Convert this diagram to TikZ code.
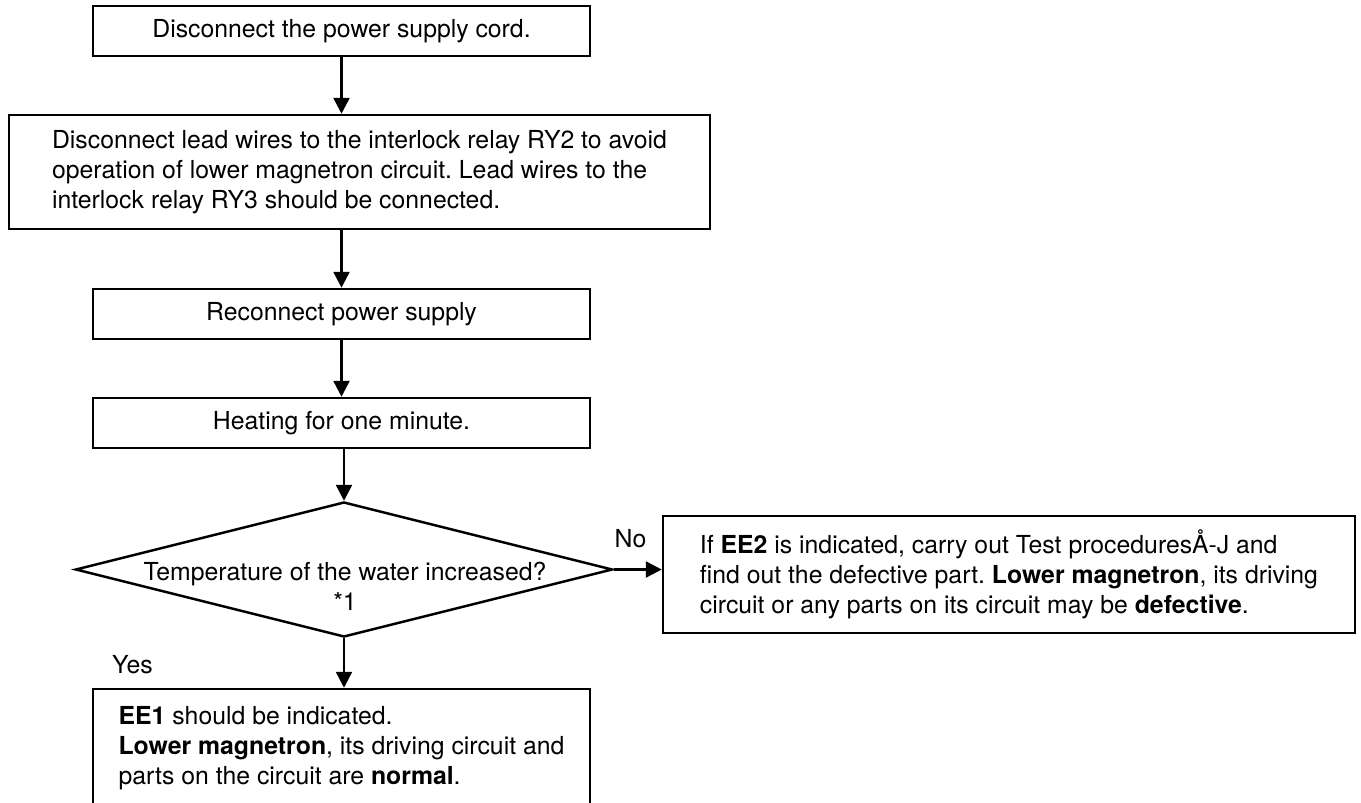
\documentclass[tikz,border=0pt]{standalone}
\usepackage{fontspec}
\setmainfont{TeX Gyre Heros}
\usepackage{xcolor}
\usepackage{tikz}
\usetikzlibrary{shapes.geometric,arrows.meta}
\definecolor{ink}{HTML}{000000}
\frenchspacing
\tikzset{
  box/.style={draw=ink, line width=2.5pt, inner sep=0pt, align=center, minimum height=50pt, font=\fontsize{24.8}{30}\selectfont},
  tbox/.style={box, align=left},
  cond/.style={draw=ink, line width=2.5pt, shape=diamond, inner sep=0pt, minimum width=537pt, minimum height=135pt},
  arr/.style={draw=ink, line width=2.5pt, -{Triangle[length=16pt,width=16pt]}},
  lab/.style={text=ink, inner sep=0pt, font=\fontsize{24.8}{30}\selectfont},
}

\begin{document}
\begin{tikzpicture}[x=1pt,y=-1pt]
  \useasboundingbox (0,0) rectangle (1361,803);
  \node[box, minimum width=497pt] (cord) at (341.5,31) {Disconnect the power supply cord.};
  \node[tbox, minimum width=701pt, minimum height=114pt] (wires) at (359.5,172)
    {Disconnect lead wires to the interlock relay RY2 to avoid\\operation of lower magnetron circuit. Lead wires to the\\interlock relay RY3 should be connected.};
  \node[box, minimum width=497pt] (reconn) at (341.5,314) {Reconnect power supply};
  \node[box, minimum width=497pt] (heat) at (341.5,423) {Heating for one minute.};
  \node[cond] (test) at (344,569.5) {};
  \node[lab, align=center] (ask) at (345,586) {Temperature of the water increased?\\*1};
  \node[tbox, minimum width=692pt, minimum height=117pt] (fault) at (1009,574.5)
    {If \textbf{EE2} is indicated, carry out Test proceduresÅ-J and\\find out the defective part. \textbf{Lower magnetron}, its driving\\circuit or any parts on its circuit may be \textbf{defective}.};
  \node[tbox, minimum width=497pt, minimum height=118pt] (ok) at (341.5,748)
    {\textbf{EE1} should be indicated.\\\textbf{Lower magnetron}, its driving circuit and\\parts on the circuit are \textbf{normal}.};
  \node[lab] (no) at (630.5,539) {No};
  \node[lab, anchor=base west] (yes) at (112,673) {Yes};
  % arrows
  \draw[arr] (cord.south) -- (cord.south |- wires.north);
  \draw[arr] (wires.south -| cord.south) -- (reconn.north);
  \draw[arr] (reconn.south) -- (heat.north);
  \draw[arr] (test.north |- heat.south) -- (test.north);
  \draw[arr] (test.south) -- (test.south |- ok.north);
  \draw[arr] (test.east) -- (test.east -| fault.west);
\end{tikzpicture}
\end{document}
